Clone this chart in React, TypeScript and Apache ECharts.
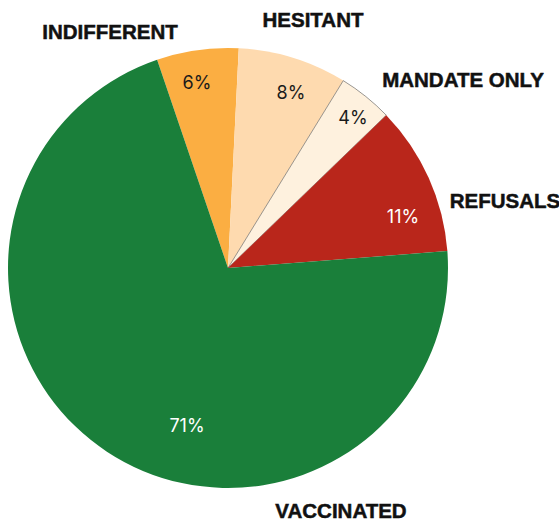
import React, { useEffect, useRef } from "react";
import * as echarts from "echarts";

const categories = ["INDIFFERENT", "HESITANT", "MANDATE ONLY", "REFUSALS", "VACCINATED"];
const values = [6, 8, 4, 11, 71];
const percentLabels = ["6%", "8%", "4%", "11%", "71%"];

// layout / styles (not data)
const colors = ["#fbae42", "#fedaaf", "#fef1de", "#b9261b", "#1a7f3a"];
const pctColors = ["#1a1a1a", "#1a1a1a", "#1a1a1a", "#ffffff", "#ffffff"];
const nameLabelPos = [
  [110, 31],
  [313, 19],
  [463, 79],
  [505, 200],
  [341, 510],
];
const pctLabelPos = [
  [197, 82],
  [291, 92],
  [353, 117],
  [403, 216],
  [187, 425],
];

export default function App() {
  const ref = useRef<HTMLDivElement>(null);
  useEffect(() => {
    if (!ref.current) return;
    const chart = echarts.init(ref.current, null, { renderer: "svg" });
    const base = {
      type: "pie",
      center: [228, 268],
      radius: [0, 220],
      startAngle: 108.8,
      clockwise: true,
      avoidLabelOverlap: false,
      labelLine: { show: false },
    };
    chart.setOption({
      animation: false,
      series: [
        {
          ...base,
          data: categories.map((c, i) => ({
            name: c,
            value: values[i],
            itemStyle: {
              color: colors[i],
              borderColor: i === 2 ? "#555555" : colors[i],
              borderWidth: i === 2 ? 0.6 : 0,
            },
            label: { color: pctColors[i] },
          })),
          label: {
            show: true,
            position: "inside",
            formatter: (p: any) => percentLabels[p.dataIndex],
            fontFamily: "Inter",
            fontSize: 18,
            fontWeight: 400,
          },
          labelLayout: (p: any) => ({
            x: pctLabelPos[p.dataIndex][0],
            y: pctLabelPos[p.dataIndex][1],
            align: "center",
            verticalAlign: "middle",
          }),
        },
        {
          ...base,
          silent: true,
          z: 3,
          data: categories.map((c, i) => ({
            name: c,
            value: values[i],
            itemStyle: { color: "rgba(0,0,0,0)" },
          })),
          label: {
            show: true,
            position: "outside",
            formatter: "{b}",
            color: "#111111",
            fontFamily: "Liberation Sans",
            fontSize: 20.5,
            fontWeight: "bold",
            textBorderColor: "#111111",
            textBorderWidth: 0.5,
          },
          labelLayout: (p: any) => ({
            x: nameLabelPos[p.dataIndex][0],
            y: nameLabelPos[p.dataIndex][1],
            align: "center",
            verticalAlign: "middle",
          }),
        },
      ],
    });
    return () => chart.dispose();
  }, []);
  return (
    <div
      ref={ref}
      style={{ position: "fixed", left: 0, top: 0, width: 559, height: 520, background: "#ffffff" }}
    />
  );
}
